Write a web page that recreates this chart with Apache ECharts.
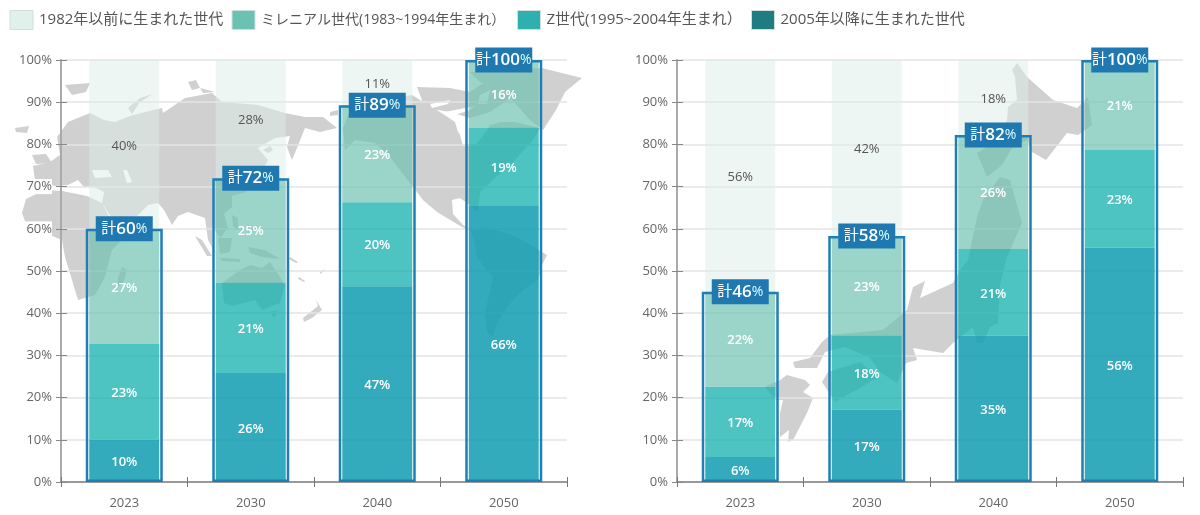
<!DOCTYPE html>
<html><head><meta charset="utf-8">
<style>html,body{margin:0;padding:0;background:#fff}#c{width:1200px;height:515px}</style>
<script src="https://cdn.jsdelivr.net/npm/echarts@6/dist/echarts.min.js"></script>
</head><body><div id="c"></div>
<script>
const years = ['2023','2030','2040','2050'];
const names = ['2005年以降に生まれた世代','Z世代(1995~2004年生まれ）','ミレニアル世代(1983~1994年生まれ）','1982年以前に生まれた世代'];
const yTicks = [0,10,20,30,40,50,60,70,80,90,100];

// left panel: segment heights as read, and the labels as printed
const leftGen2005 = [10,25.8,46.4,65.4];
const leftGenZ    = [22.7,21.5,19.9,18.6];
const leftMillen  = [27.3,24.7,23,16];
const leftOlder   = [40,28,10.7,0];
const leftTotals  = [60,72,89.3,100];
const leftTotalLabels = ['60','72','89','100'];
const leftLabels = [['10','26','47','66'],['23','21','20','19'],['27','25','23','16'],['40','28','11','']];

// right panel
const rightGen2005 = [5.9,17.2,34.7,55.5];
const rightGenZ    = [16.7,17.5,20.5,23.2];
const rightMillen  = [22.5,23.6,27,21.3];
const rightOlder   = [54.9,41.7,17.8,0];
const rightTotals  = [45.1,58.3,82.2,100];
const rightTotalLabels = ['46','58','82','100'];
const rightLabels = [['6','17','35','56'],['17','18','21','23'],['22','23','26','21'],['56','42','18','']];

// decorative background maps (page pixels), not data
const worldLand = [
 [[57,137],[68,122],[90,113],[104,120],[115,122],[130,116],[153,110],[162,108],[163,113],[185,98],[212,93],[222,102],[258,105],[285,113],[305,117],[323,117],[337,128],[320,132],[305,128],[297,148],[292,160],[287,147],[290,136],[275,138],[258,148],[268,160],[262,172],[250,180],[246,192],[232,196],[232,207],[224,214],[228,228],[220,238],[212,226],[212,245],[217,256],[208,240],[205,218],[188,212],[178,216],[172,225],[164,210],[158,203],[148,205],[136,217],[118,227],[102,203],[104,192],[92,186],[84,187],[78,180],[68,185],[55,186],[35,180],[33,166],[50,162],[60,155]],
 [[22,213],[26,199],[45,190],[62,191],[87,196],[102,203],[115,228],[129,224],[122,240],[112,250],[105,277],[95,295],[78,300],[72,280],[65,257],[62,240],[45,233],[25,221]],
 [[343,128],[352,105],[380,100],[412,95],[440,112],[455,122],[458,132],[467,144],[475,130],[500,122],[515,122],[540,128],[533,140],[515,160],[495,178],[480,192],[478,212],[470,205],[460,198],[452,200],[453,214],[463,225],[470,230],[462,227],[437,212],[423,200],[413,187],[390,157],[375,143],[355,140],[345,150]],
 [[470,230],[487,227],[517,237],[547,255],[542,265],[538,280],[523,290],[507,307],[497,323],[493,337],[487,333],[485,313],[493,277],[477,258],[475,243]],
 [[470,72],[500,70],[542,68],[582,78],[565,92],[556,110],[543,130],[530,120],[505,92],[480,82]],
 [[65,85],[90,83],[86,92],[72,95]],[[15,128],[29,126],[27,133],[16,132]],[[32,155],[46,154],[52,163],[36,164]],
 [[128,108],[140,98],[153,94],[140,102],[132,114]],[[188,82],[196,80],[200,88],[192,90]],[[200,88],[215,92],[203,93]],
 [[195,236],[202,240],[212,256],[207,256]],[[218,238],[232,238],[230,252],[220,254]],[[220,258],[240,259],[240,262],[222,261]],
 [[248,247],[265,250],[280,259],[262,257],[250,253]],[[232,215],[238,218],[238,230],[233,226]],
 [[222,283],[240,270],[250,265],[262,268],[270,262],[285,285],[280,303],[262,310],[255,300],[232,306],[224,303]],
 [[271,311],[277,311],[275,317],[272,316]],[[316,300],[322,310],[312,318],[304,322],[303,318],[318,306]],
 [[299,277],[305,281],[304,282],[298,279]],[[320,272],[325,269],[324,271],[320,274]],[[290,257],[298,262],[296,263],[289,259]],
 [[122,267],[127,270],[123,283],[118,287],[118,278]],[[330,112],[338,110],[338,115],[330,116]],
 [[417,87],[450,88],[470,92],[500,72],[515,95],[490,112],[470,118],[450,112],[425,108]],[[263,150],[270,146],[273,150],[268,153]]
];
const worldSea = [
 [[92,170],[108,170],[112,177],[95,178]],[[123,170],[127,170],[132,182],[127,183]],[[460,135],[478,126],[490,126],[475,146],[463,146]],
 [[430,104],[450,100],[448,104],[432,108]],[[445,112],[475,106],[470,110],[452,116]],[[480,95],[490,90],[487,104],[478,104]]
];
const japanLand = [
 [[1012,70],[1017,63],[1027,77],[1053,100],[1077,108],[1088,97],[1092,125],[1078,135],[1067,133],[1046,160],[1032,152],[1027,140],[1012,148],[1002,165],[987,177],[977,153],[990,145],[1000,135],[1007,120],[1008,107],[1017,100],[1015,77]],
 [[1000,177],[1010,180],[1022,223],[1007,257],[1000,285],[998,323],[990,327],[983,343],[977,343],[973,327],[953,343],[943,353],[913,348],[917,360],[906,363],[897,383],[880,372],[870,358],[845,347],[825,352],[817,368],[795,368],[793,362],[810,358],[822,342],[830,335],[883,330],[907,310],[913,287],[925,281],[920,298],[953,283],[960,270],[968,260],[977,217],[983,200]],
 [[822,382],[828,372],[860,362],[878,377],[860,388],[835,402]],
 [[765,387],[780,380],[787,375],[805,380],[810,385],[803,392],[813,398],[807,413],[793,440],[788,442],[789,430],[780,437],[780,413],[783,400],[776,400]]
];

const fontFamily = '"Open Sans","Noto Sans CJK JP",sans-serif';
const colors = ['rgba(18,157,177,0.86)','rgba(21,178,175,0.76)','rgba(108,192,176,0.68)','rgba(219,237,231,0.5)'];
const legendColors = ['#1e7c82','#2eb0ae','#6cc2b2','#e0f0ea'];
const legendLeft = [751,517,231.5,9.5];
const legendFont = [15,15,14,15];

function land(points, fill){
  return {type:'polygon',silent:true,z:-1,shape:{points:points},style:{fill:fill}};
}
const graphicEls = []
  .concat(worldLand.map(p=>land(p,'#d0d0d0')))
  .concat(worldSea.map(p=>land(p,'#ffffff')))
  .concat(japanLand.map(p=>land(p,'#d0d0d0')));

function panelAxes(grid){
  return {
    x:[{type:'category',gridIndex:grid,data:years,
        axisLine:{lineStyle:{color:'#999',width:2}},
        axisTick:{show:true,length:5,lineStyle:{color:'#777',width:1}},
        axisLabel:{color:'#666',fontSize:13,fontFamily,margin:15}},
       {type:'category',gridIndex:grid,data:years,position:'bottom',
        axisLine:{show:false},axisLabel:{show:false},
        axisTick:{show:true,inside:true,length:5,lineStyle:{color:'#777',width:1}}}],
    y:[{type:'value',gridIndex:grid,min:0,max:100,interval:10,
        axisLine:{show:true,lineStyle:{color:'#aaa',width:2}},
        axisTick:{show:true,length:5,lineStyle:{color:'#888',width:1}},
        axisLabel:{color:'#666',fontSize:13,fontFamily,margin:9,padding:[2,0,0,0],
          backgroundColor:'#fff',formatter:v=>yTicks.includes(v)?v+'%':''},
        splitLine:{lineStyle:{color:'#e5e5e5',width:1.5}}},
       {type:'value',gridIndex:grid,min:0,max:100,interval:10,position:'left',
        axisLine:{show:false},axisLabel:{show:false},splitLine:{show:false},
        axisTick:{show:true,inside:true,length:6,lineStyle:{color:'#888',width:1}}}]
  };
}

function panelSeries(grid, segs, labels, totals, totalLabels){
  const xBase = grid*2, yBase = grid*2;
  const list = segs.map((vals,i)=>({
    type:'bar',name:names[i],stack:'p'+grid,xAxisIndex:xBase,yAxisIndex:yBase,
    barWidth:70,data:vals,z:2,
    itemStyle:{color:colors[i]},
    label:{show:true,position:'inside',offset:[0,1.5],fontFamily,fontSize:13,fontWeight:i===3?'normal':600,
      color:i===3?'#555':'#fff',
      formatter:p=>labels[i][p.dataIndex]?labels[i][p.dataIndex]+'%':''}
  }));
  list.push({
    type:'bar',xAxisIndex:xBase+1,yAxisIndex:yBase,barWidth:77,data:totals,z:4,silent:true,
    itemStyle:{color:'rgba(0,0,0,0)',borderColor:'#1f7fb5',borderWidth:2.5},
    label:{show:true,position:'top',distance:0,
      formatter:p=>'{k|計}{n|'+totalLabels[p.dataIndex]+'}{p|%}',
      backgroundColor:'#1f78b0',width:57,height:25,align:'center',verticalAlign:'middle',
      lineHeight:25,
      rich:{k:{color:'#fff',fontSize:15,fontFamily,height:25},
            n:{color:'#fff',fontSize:17,fontWeight:600,fontFamily,height:25},
            p:{color:'#dff',fontSize:14,fontFamily,height:25}}}
  });
  return list;
}

const a0 = panelAxes(0), a1 = panelAxes(1);
const option = {
  animation:false,
  backgroundColor:'#fff',
  graphic:{elements:graphicEls},
  legend:names.map((n,i)=>({
    data:[n],left:legendLeft[i],top:10,padding:0,itemWidth:23,itemHeight:19,icon:'rect',
    itemStyle:{color:legendColors[i],borderColor:'#cfe0dc',borderWidth:1},
    textStyle:{color:'#555',fontSize:legendFont[i],fontFamily,padding:[0,0,0,1]}
  })),
  grid:[{left:61,top:60,width:506,height:422},{left:677,top:60,width:506,height:422}],
  xAxis:a0.x.concat(a1.x),
  yAxis:a0.y.concat(a1.y),
  series:panelSeries(0,[leftGen2005,leftGenZ,leftMillen,leftOlder],leftLabels,leftTotals,leftTotalLabels)
    .concat(panelSeries(1,[rightGen2005,rightGenZ,rightMillen,rightOlder],rightLabels,rightTotals,rightTotalLabels))
};
echarts.init(document.getElementById('c')).setOption(option);
</script></body></html>
